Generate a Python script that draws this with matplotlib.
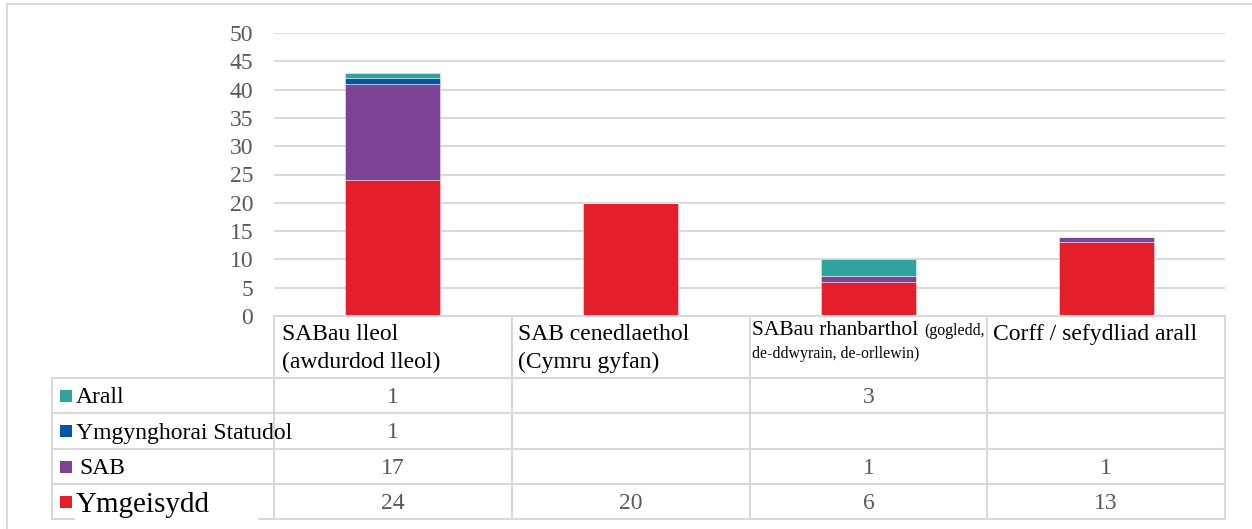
import numpy as np
import matplotlib.pyplot as plt
from matplotlib.patches import Rectangle

plt.rcParams["font.family"] = ["Liberation Serif", "DejaVu Serif"]

# data
categories = ["SABau lleol\n(awdurdod lleol)", "SAB cenedlaethol\n(Cymru gyfan)",
              "SABau rhanbarthol", "Corff / sefydliad arall"]
category_note = ["", "", "(gogledd,\nde-ddwyrain, de-orllewin)", ""]

series_names = ["Ymgeisydd", "SAB", "Ymgynghorai Statudol", "Arall"]  # bottom -> top
ymgeisydd = [24, 20, 6, 13]
sab = [17, 0, 1, 1]
statudol = [1, 0, 0, 0]
arall = [1, 0, 3, 0]
series_values = [ymgeisydd, sab, statudol, arall]
series_colors = ["#E41E2A", "#7D4495", "#0057A8", "#31A39E"]

yticks = list(range(0, 51, 5))

# layout in pixels
W, H = 1252, 529
plot_left, plot_right = 274, 1225
plot_top, plot_bottom = 33, 316
row_lines = [378, 413, 449, 484, 519]
label_left = 52
grid_col = "#d9d9d9"
text_gray = "#595959"

fig = plt.figure(figsize=(W / 100, H / 100), dpi=100)

# bar chart
ax = fig.add_axes([plot_left / W, 1 - plot_bottom / H,
                   (plot_right - plot_left) / W, (plot_bottom - plot_top) / H])
ax.patch.set_alpha(0)
x = np.arange(len(categories))
bottom = np.zeros(len(categories))
for vals, col in zip(series_values, series_colors):
    ax.bar(x, vals, width=0.4, bottom=bottom, color=col,
           edgecolor=(1, 1, 1, 0.5), linewidth=0.6, zorder=3)
    bottom += np.array(vals)
ax.set_xlim(-0.5, len(categories) - 0.5)
ax.set_ylim(0, 50)
ax.set_yticks(yticks)
ax.set_xticks([])
ax.yaxis.grid(True, color=grid_col, linewidth=1.4, zorder=0)
ax.tick_params(axis="y", labelsize=17, colors=text_gray, length=0, pad=15)
for s in ax.spines.values():
    s.set_visible(False)

# overlay for table and frame (pixel coordinates)
ov = fig.add_axes([0, 0, 1, 1])
ov.set_xlim(0, W)
ov.set_ylim(H, 0)
ov.axis("off")
ov.patch.set_alpha(0)

# outer frame
ov.plot([7, W], [4, 4], color=grid_col, lw=1.4)
ov.plot([7, 7], [4, H], color=grid_col, lw=1.4)

col_w = (plot_right - plot_left) / len(categories)
col_edges = [plot_left + i * col_w for i in range(len(categories) + 1)]

# table lines
ov.plot([plot_left, plot_right], [plot_bottom, plot_bottom], color=grid_col, lw=1.5)
for y in row_lines:
    ov.plot([label_left, plot_right], [y, y], color=grid_col, lw=1.5)
for xe in col_edges:
    ov.plot([xe, xe], [plot_bottom, row_lines[-1]], color=grid_col, lw=1.5)
ov.plot([label_left, label_left], [row_lines[0], row_lines[-1]], color=grid_col, lw=1.5)

# header texts
for i, (cat, note) in enumerate(zip(categories, category_note)):
    xl = col_edges[i] + 6
    if note:
        n1, n2 = note.split("\n")
        ov.text(xl - 3, 335, cat, fontsize=15.5, va="baseline", ha="left")
        ov.text(xl + 169, 335, n1, fontsize=11.4, va="baseline", ha="left")
        ov.text(xl - 3, 358, n2, fontsize=11.4, va="baseline", ha="left")
    else:
        for j, line in enumerate(cat.split("\n")):
            ov.text(xl + 2 if i == 0 else xl, 340 + 28 * j, line,
                    fontsize=17, va="baseline", ha="left")

# legend rows and values (top row = top of stack)
for r, k in enumerate(reversed(range(len(series_names)))):
    y0, y1 = row_lines[r], row_lines[r + 1]
    yc = (y0 + y1) / 2
    big = series_names[k] == "Ymgeisydd"
    if big:
        ov.add_patch(Rectangle((75, y0 + 5), 183, y1 - y0 - 1, facecolor="white",
                               edgecolor="none", zorder=4))
    ov.add_patch(Rectangle((60, yc - 6), 12, 12, facecolor=series_colors[k],
                           edgecolor="none", zorder=5))
    ov.text(76 if k != 1 else 79, yc + (10 if big else 7.5), series_names[k],
            fontsize=21 if big else 17, va="baseline", ha="left", zorder=6)
    for i, v in enumerate(series_values[k]):
        if v:
            ov.text((col_edges[i] + col_edges[i + 1]) / 2, yc + 7.5, str(v),
                    fontsize=17, color=text_gray, va="baseline", ha="center")

fig.savefig("out.png", dpi=100)
